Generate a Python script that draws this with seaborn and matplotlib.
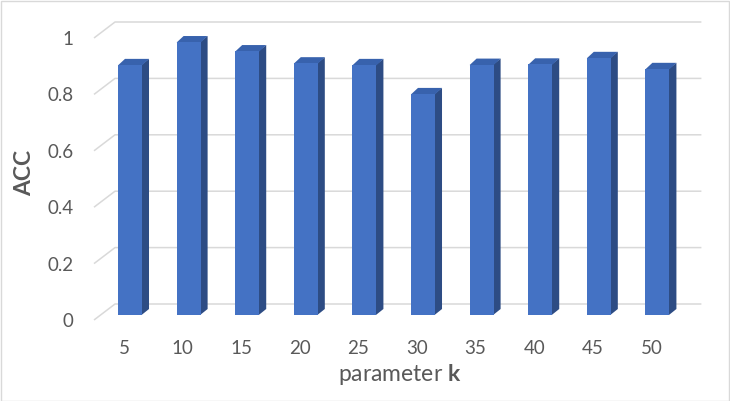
import numpy as np
import pandas as pd
import matplotlib
matplotlib.use("Agg")
import matplotlib.pyplot as plt
from matplotlib.patches import Polygon, Rectangle
import seaborn as sns

# ---- data ----
k_labels = ["5", "10", "15", "20", "25", "30", "35", "40", "45", "50"]
acc = [0.887, 0.968, 0.936, 0.893, 0.887, 0.784, 0.888, 0.889, 0.912, 0.873]
y_ticks = [0, 0.2, 0.4, 0.6, 0.8, 1]
y_tick_labels = ["0", "0.2", "0.4", "0.6", "0.8", "1"]

# ---- style ----
sns.set_theme(style="white")
plt.rcParams['font.family'] = ['Lato', 'DejaVu Sans']
plt.rcParams['mathtext.fontset'] = 'custom'
plt.rcParams['mathtext.rm'] = 'Lato'
plt.rcParams['mathtext.bf'] = 'Lato:bold'

TXT = "#595959"
GRID = "#D9D9D9"
FRONT = "#4472C4"
SIDE = "#2D4C84"
TOP = "#3862AD"

W, H = 730, 401
fig = plt.figure(figsize=(W / 100, H / 100), dpi=100)
fig.patch.set_facecolor("white")

AX_L, AX_R, AX_T, AX_B = 90, 710, 15, 330     # axes box (pixels, y down)
CAT0, CAT_STEP = 130.0, 58.6                   # px of first category, px per category
BASE, PX_PER_UNIT = 315.0, 282.0               # px of value 0, px per unit

ax = fig.add_axes([AX_L / W, 1 - AX_B / H, (AX_R - AX_L) / W, (AX_B - AX_T) / H])

df = pd.DataFrame({"k": k_labels, "acc": acc})
sns.barplot(data=df, x="k", y="acc", color=FRONT, saturation=1, width=0.41,
            ax=ax, zorder=3, linewidth=0)

ax.set_xlim((AX_L - CAT0) / CAT_STEP, (AX_R - CAT0) / CAT_STEP)
ax.set_ylim((BASE - AX_B) / PX_PER_UNIT, (BASE - AX_T) / PX_PER_UNIT)
for s in ax.spines.values():
    s.set_visible(False)
ax.grid(False)

inv = ax.transData.inverted()
def d2p(x, y):
    return ax.transData.transform((x, y))
def p2d(x, y):
    return inv.transform((x, y))

# 3D faces of bars
DX, DY = 7.0, 6.0
for p in list(ax.patches):
    x0, y0 = p.get_x(), p.get_y()
    x1, y1 = x0 + p.get_width(), y0 + p.get_height()
    (X0, Y0), (X1, Y1) = d2p(x0, y0), d2p(x1, y1)
    side = [p2d(X1 - 0.5, Y0), p2d(X1 - 0.5, Y1), p2d(X1 + DX, Y1 + DY), p2d(X1 + DX, Y0 + DY)]
    top = [p2d(X0, Y1 - 0.5), p2d(X1, Y1 - 0.5), p2d(X1 + DX, Y1 + DY), p2d(X0 + DX, Y1 + DY)]
    ax.add_patch(Polygon(side, closed=True, facecolor=SIDE, edgecolor="none", zorder=2.9))
    ax.add_patch(Polygon(top, closed=True, facecolor=TOP, edgecolor="none", zorder=2.9))

# back wall gridlines + left side wall lines
cat0_px = d2p(0, 0)[0]
catN_px = d2p(len(k_labels) - 1, 0)[0]
FRONT_X, BACK_X, END_X = cat0_px - 36, cat0_px - 15, catN_px + 44
FRONT_DY, BACK_DY = -5, 11
tick_pos = []
for v in y_ticks:
    yd = d2p(0, v)[1]
    pts = [p2d(FRONT_X, yd + FRONT_DY), p2d(BACK_X, yd + BACK_DY), p2d(END_X, yd + BACK_DY)]
    ax.plot([q[0] for q in pts], [q[1] for q in pts], color=GRID, lw=1.1, zorder=1,
            solid_capstyle="butt")
    tick_pos.append(p2d(0, yd + FRONT_DY)[1])

ax.set_yticks(tick_pos, y_tick_labels)
xshift = p2d(cat0_px - 6, 0)[0]
ax.set_xticks(np.arange(len(k_labels)) + xshift, k_labels)
ax.tick_params(axis="both", length=0, labelsize=13.5, colors=TXT)
ax.tick_params(axis="y", pad=12)
ax.tick_params(axis="x", pad=7)

ax.set_xlabel(r"parameter $\mathbf{k}$", fontsize=16.5, color=TXT, labelpad=4)
ax.set_ylabel("ACC", fontsize=16.5, color=TXT, fontweight="bold", labelpad=9)

fig.patches.append(Rectangle((0.5 / W, 0.5 / H), 1 - 1.5 / W, 1 - 1.5 / H,
                             transform=fig.transFigure, fill=False,
                             edgecolor=GRID, linewidth=1.0))

fig.savefig("out.png", dpi=100, facecolor="white")
